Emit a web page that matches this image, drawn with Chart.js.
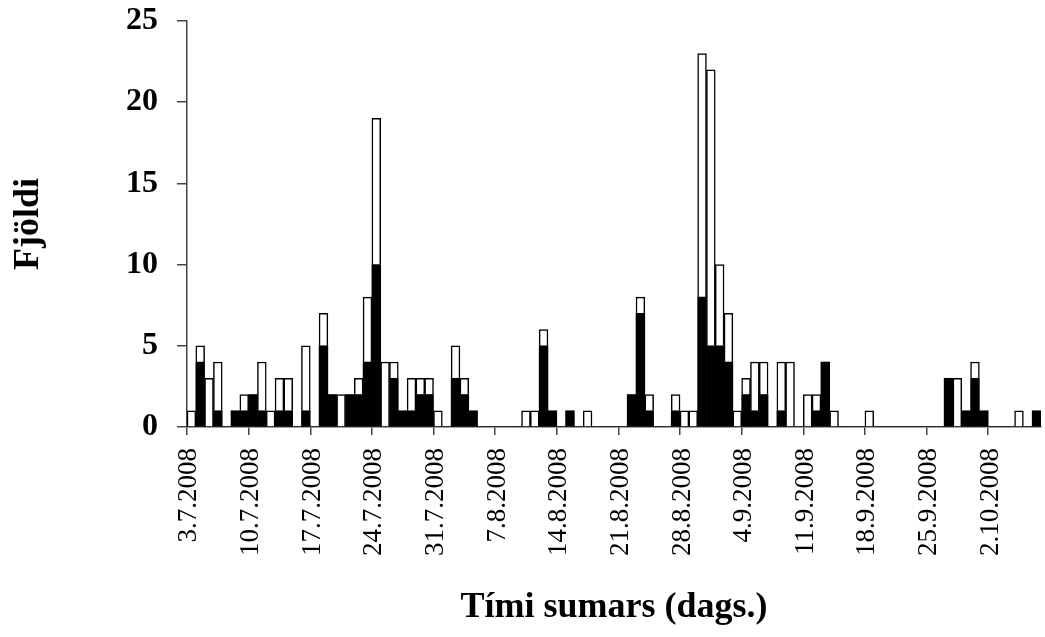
<!DOCTYPE html>
<html>
<head>
<meta charset="utf-8">
<script src="https://cdn.jsdelivr.net/npm/chart.js@4.4.1/dist/chart.umd.min.js"></script>
<style>
  body { margin: 0; background: #fff; }
  #wrap { width: 1045px; height: 637px; }
</style>
</head>
<body>
<div id="wrap"><canvas id="chart"></canvas></div>
<script>
// one category per day, 3.7.2008 - 7.10.2008
const days = [
  "3.7.2008","4.7.2008","5.7.2008","6.7.2008","7.7.2008","8.7.2008","9.7.2008",
  "10.7.2008","11.7.2008","12.7.2008","13.7.2008","14.7.2008","15.7.2008","16.7.2008",
  "17.7.2008","18.7.2008","19.7.2008","20.7.2008","21.7.2008","22.7.2008","23.7.2008",
  "24.7.2008","25.7.2008","26.7.2008","27.7.2008","28.7.2008","29.7.2008","30.7.2008",
  "31.7.2008","1.8.2008","2.8.2008","3.8.2008","4.8.2008","5.8.2008","6.8.2008",
  "7.8.2008","8.8.2008","9.8.2008","10.8.2008","11.8.2008","12.8.2008","13.8.2008",
  "14.8.2008","15.8.2008","16.8.2008","17.8.2008","18.8.2008","19.8.2008","20.8.2008",
  "21.8.2008","22.8.2008","23.8.2008","24.8.2008","25.8.2008","26.8.2008","27.8.2008",
  "28.8.2008","29.8.2008","30.8.2008","31.8.2008","1.9.2008","2.9.2008","3.9.2008",
  "4.9.2008","5.9.2008","6.9.2008","7.9.2008","8.9.2008","9.9.2008","10.9.2008",
  "11.9.2008","12.9.2008","13.9.2008","14.9.2008","15.9.2008","16.9.2008","17.9.2008",
  "18.9.2008","19.9.2008","20.9.2008","21.9.2008","22.9.2008","23.9.2008","24.9.2008",
  "25.9.2008","26.9.2008","27.9.2008","28.9.2008","29.9.2008","30.9.2008","1.10.2008",
  "2.10.2008","3.10.2008","4.10.2008","5.10.2008","6.10.2008","7.10.2008"
];

// dates that get a label and a tick mark
const tickLabels = [
  "3.7.2008","10.7.2008","17.7.2008","24.7.2008","31.7.2008","7.8.2008","14.8.2008",
  "21.8.2008","28.8.2008","4.9.2008","11.9.2008","18.9.2008","25.9.2008","2.10.2008"
];

// black part of each bar
const dark = [
  0,4,0,1,0,1,1,
  2,1,0,1,1,0,1,
  0,5,2,0,2,2,4,
  10,0,3,1,1,2,2,
  0,0,3,2,1,0,0,
  0,0,0,0,0,5,1,
  0,1,0,0,0,0,0,
  0,2,7,1,0,0,1,
  0,0,8,5,5,4,0,
  2,1,2,0,1,0,0,
  0,1,4,0,0,0,0,
  0,0,0,0,0,0,0,
  0,0,3,0,1,3,1,
  0,0,0,0,0,1
];

// white part stacked on top
const light = [
  1,1,3,3,0,0,1,
  0,3,1,2,2,0,4,
  0,2,0,2,0,1,4,
  9,4,1,0,2,1,1,
  1,0,2,1,0,0,0,
  0,0,0,1,1,1,0,
  0,0,0,1,0,0,0,
  0,0,1,1,0,0,1,
  1,1,15,17,5,3,1,
  1,3,2,0,3,4,0,
  2,1,0,1,0,0,0,
  1,0,0,0,0,0,0,
  0,0,0,3,0,1,0,
  0,0,0,1,0,0
];

const yTicks = [0, 5, 10, 15, 20, 25];

const serif = "'Liberation Serif', 'Times New Roman', serif";
const axisColor = "#444";

new Chart(document.getElementById("chart"), {
  type: "bar",
  data: {
    labels: days,
    datasets: [
      {
        label: "dark",
        data: dark,
        backgroundColor: "#000",
        borderColor: "#000",
        borderWidth: 0,
        barPercentage: 1,
        categoryPercentage: 1,
      },
      {
        label: "light",
        data: light,
        backgroundColor: "#fff",
        borderColor: "#000",
        borderWidth: 1.5,
        borderSkipped: "start",
        barPercentage: 1,
        categoryPercentage: 1,
      },
    ],
  },
  options: {
    responsive: true,
    maintainAspectRatio: false,
    animation: false,
    layout: { padding: { top: 21, right: 4, left: 0, bottom: 0 } },
    plugins: { legend: { display: false }, tooltip: { enabled: false } },
    scales: {
      x: {
        stacked: true,
        afterFit: function (scale) {
          scale.height = 210;
          scale.paddingLeft = 0;
          scale.paddingRight = 0;
        },
        border: { color: axisColor, width: 1.5 },
        grid: {
          drawOnChartArea: false,
          tickLength: 8,
          lineWidth: 1.5,
          color: function (ctx) {
            return tickLabels.includes(days[ctx.index]) ? axisColor : "rgba(0,0,0,0)";
          },
        },
        ticks: {
          autoSkip: false,
          minRotation: 90,
          maxRotation: 90,
          padding: 13,
          labelOffset: -2,
          color: "#000",
          font: { family: serif, size: 27 },
          callback: function (value, index) {
            return tickLabels.includes(days[index]) ? days[index] : "";
          },
        },
        title: {
          display: true,
          text: "Tími sumars (dags.)",
          color: "#000",
          font: { family: serif, size: 36, weight: "bold" },
          padding: { top: 0, bottom: 8 },
        },
      },
      y: {
        stacked: true,
        min: 0,
        max: 25,
        afterFit: function (scale) {
          scale.width = 187;
          scale.paddingTop = 0;
          scale.paddingBottom = 0;
        },
        afterBuildTicks: function (scale) {
          scale.ticks = yTicks.map(function (v) { return { value: v }; });
        },
        border: { color: axisColor, width: 1.5 },
        grid: { drawOnChartArea: false, tickLength: 10, color: axisColor, lineWidth: 1.5 },
        ticks: {
          padding: 19,
          color: "#000",
          font: { family: serif, size: 32, weight: "bold" },
        },
        title: {
          display: true,
          text: "Fjöldi",
          color: "#000",
          font: { family: serif, size: 36, weight: "bold" },
          padding: { top: 7, bottom: 0 },
        },
      },
    },
  },
});
</script>
</body>
</html>
